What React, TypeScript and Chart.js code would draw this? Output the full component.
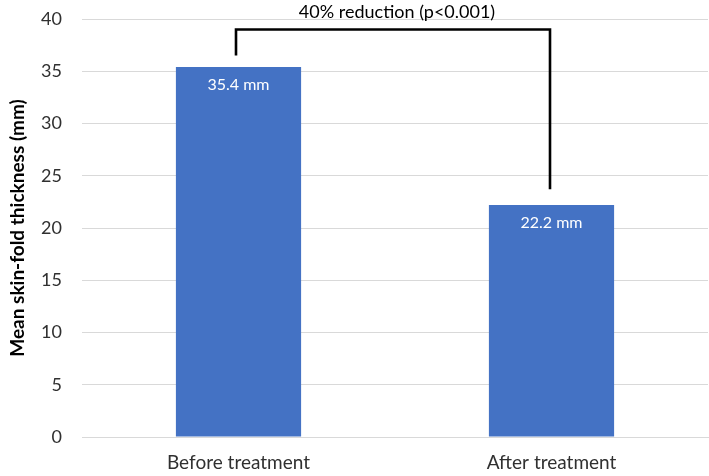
import React, { useEffect, useRef } from "react";
import { Chart, registerables } from "chart.js";

Chart.register(...registerables);

const categories = ["Before treatment", "After treatment"];
const values = [35.4, 22.2];
const barLabels = ["35.4 mm", "22.2 mm"];
const yTicks = [0, 5, 10, 15, 20, 25, 30, 35, 40];
const annotationText = "40% reduction (p<0.001)";
const bracketTop = 39;
const bracketEnds = [36.5, 23.7];

const FONT = "Lato, 'Open Sans', sans-serif";
const TEXT = "#303030";

const overlay = {
  id: "overlay",
  afterDatasetsDraw(chart: any) {
    const { ctx, scales } = chart;
    const x = scales.x;
    const y = scales.y;
    const meta = chart.getDatasetMeta(0);
    ctx.save();
    // bar labels
    ctx.fillStyle = "#ffffff";
    ctx.font = `16px ${FONT}`;
    ctx.textAlign = "center";
    ctx.textBaseline = "middle";
    meta.data.forEach((bar: any, i: number) => {
      ctx.fillText(barLabels[i], bar.x, bar.y + 17.5);
    });
    // bracket
    const x1 = x.getPixelForValue(0) - 2.5;
    const x2 = x.getPixelForValue(1) - 1.5;
    ctx.strokeStyle = "#000000";
    ctx.lineWidth = 2.6;
    ctx.lineJoin = "miter";
    ctx.beginPath();
    ctx.moveTo(x1, y.getPixelForValue(bracketEnds[0]));
    ctx.lineTo(x1, y.getPixelForValue(bracketTop));
    ctx.lineTo(x2, y.getPixelForValue(bracketTop));
    ctx.lineTo(x2, y.getPixelForValue(bracketEnds[1]));
    ctx.stroke();
    // annotation text
    ctx.fillStyle = "#000000";
    ctx.font = `18px ${FONT}`;
    ctx.fillText(annotationText, (x1 + x2) / 2 + 4, 12);
    ctx.restore();
  },
};

export default function App() {
  const ref = useRef<HTMLCanvasElement>(null);
  useEffect(() => {
    document.body.style.margin = "0";
    const chart = new Chart(ref.current!, {
      type: "bar",
      data: {
        labels: categories,
        datasets: [
          {
            data: values,
            backgroundColor: "#4472C4",
            barPercentage: 0.4,
            categoryPercentage: 1,
          },
        ],
      },
      options: {
        animation: false,
        responsive: false,
        layout: { padding: { top: 19, right: 1, bottom: 2, left: 6 } },
        plugins: { legend: { display: false }, tooltip: { enabled: false } },
        scales: {
          x: {
            afterFit(scale: any) {
              scale.height = 37;
            },
            grid: { display: false, drawTicks: false },
            border: { display: true, color: "#d9d9d9", width: 1 },
            ticks: {
              color: TEXT,
              font: { family: FONT, size: 19 },
              padding: 14,
            },
          },
          y: {
            min: 0,
            max: 40,
            afterBuildTicks(scale: any) {
              scale.ticks = yTicks.map((v) => ({ value: v }));
            },
            afterFit(scale: any) {
              scale.paddingTop = 0;
              scale.paddingBottom = 0;
              scale.width = 76;
            },
            grid: { color: "#d9d9d9", drawTicks: false },
            border: { display: false },
            ticks: {
              color: TEXT,
              font: { family: FONT, size: 18 },
              padding: 20,
            },
            title: {
              display: true,
              text: "Mean skin-fold thickness (mm)",
              color: "#000000",
              font: { family: FONT, size: 19, weight: "bold" },
              padding: { top: 0, bottom: 0 },
            },
          },
        },
      },
      plugins: [overlay],
    });
    return () => chart.destroy();
  }, []);
  return (
    <div style={{ width: 709, height: 476 }}>
      <canvas ref={ref} width={709} height={476} />
    </div>
  );
}
